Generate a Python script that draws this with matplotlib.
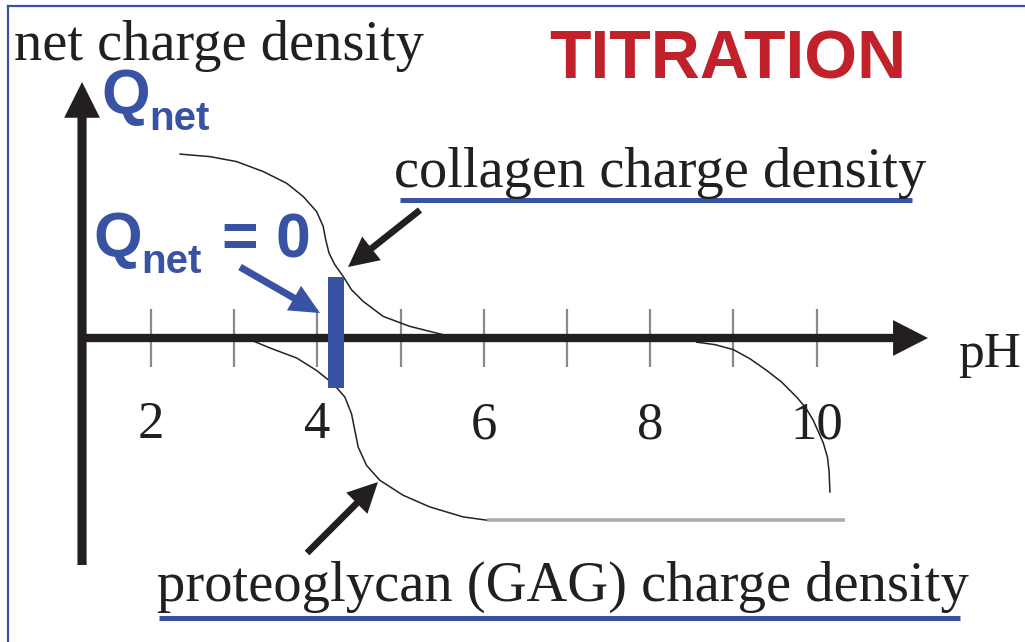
import matplotlib
matplotlib.use("Agg")
import matplotlib.pyplot as plt
from matplotlib.lines import Line2D
from matplotlib.patches import FancyArrow, Rectangle

# %% Data (pH vs net charge density, arbitrary units)

collagen_ph = [2.35, 2.71, 3.03, 3.35, 3.63, 3.83, 3.99, 4.07, 4.10, 4.14,
               4.21, 4.31, 4.41, 4.55, 4.79, 5.11, 5.43, 5.55]
collagen_q = [2.21, 2.18, 2.12, 2.00, 1.86, 1.70, 1.52, 1.34, 1.18, 1.02,
              0.88, 0.74, 0.58, 0.44, 0.26, 0.14, 0.06, 0.03]

gag_ph = [3.10, 3.19, 3.43, 3.75, 3.99, 4.19, 4.33, 4.41, 4.45, 4.49,
          4.59, 4.75, 5.03, 5.35, 5.75, 6.04]
gag_q = [0.00, -0.02, -0.12, -0.24, -0.39, -0.55, -0.71, -0.91, -1.11, -1.31,
         -1.53, -1.71, -1.89, -2.03, -2.15, -2.19]

plateau_ph = [6.04, 10.34]
plateau_q = [-2.19, -2.19]

basic_ph = [8.56, 8.78, 9.00, 9.20, 9.40, 9.58, 9.76, 9.87, 9.96, 10.08,
            10.13, 10.15, 10.16]
basic_q = [-0.05, -0.08, -0.14, -0.25, -0.39, -0.53, -0.71, -0.84, -0.99, -1.26,
           -1.43, -1.60, -1.85]

tick_ph = [2, 3, 4, 5, 6, 7, 8, 9, 10]
label_ph = [2, 4, 6, 8, 10]

pI = 4.22  # Q_net = 0

BLUE = "#3953a4"
RED = "#c0212b"
INK = "#231f20"
SERIF = "Liberation Serif"
SANS = "Liberation Sans"

# %% Figure

fig = plt.figure(figsize=(10.25, 6.42), dpi=100)
ax = fig.add_axes([0, 0, 1, 1])
ax.set_xlim(0.1851, 12.5048)
ax.set_ylim(-3.6538, 4.0625)
ax.axis("off")

# frame lines (top and left only)
fig.add_artist(Line2D([8 / 1025, 1], [1 - 6 / 642, 1 - 6 / 642], color=BLUE, lw=1.6))
fig.add_artist(Line2D([8 / 1025, 8 / 1025], [0, 1 - 6 / 642], color=BLUE, lw=1.6))

# tick marks
ax.vlines(tick_ph, -0.35, 0.35, color="#8a8a8a", lw=1.6, zorder=1)

# axes with arrow heads
ax.add_patch(FancyArrow(1.147, 0, 11.339 - 1.147, 0, width=0.1, head_width=0.43,
                        head_length=0.42, length_includes_head=True,
                        color=INK, lw=0, zorder=3))
ax.add_patch(FancyArrow(1.171, -2.728, 0, 3.077 + 2.728, width=0.11, head_width=0.43,
                        head_length=0.43, length_includes_head=True,
                        color=INK, lw=0, zorder=3))

# titration curves
line_kw = dict(color="#222222", lw=1.1, zorder=2, solid_joinstyle="round")
ax.plot(collagen_ph, collagen_q, **line_kw)
ax.plot(gag_ph, gag_q, **line_kw)
ax.plot(plateau_ph, plateau_q, color="#ababab", lw=2.6, zorder=2, solid_capstyle="butt")
ax.plot(basic_ph, basic_q, **line_kw)

# isoelectric bar
ax.add_patch(Rectangle((pI - 0.096, -0.601), 0.192, 1.334, color=BLUE, lw=0, zorder=4))

# tick labels
for v in label_ph:
    ax.text(v, -1.046, str(v), family=SERIF, fontsize=38, color=INK,
            ha="center", va="center")

ax.text(11.70, -0.349, "pH", family=SERIF, fontsize=37, color=INK, va="baseline")
ax.text(0.353, 3.341, "net charge density", family=SERIF, fontsize=40.7,
        color=INK, va="baseline")
ax.text(8.935, 3.125, "TITRATION", family=SANS, fontsize=49, weight="bold",
        color=RED, ha="center", va="baseline")

# Q_net labels
ax.text(1.399, 2.704, "Q", family=SANS, fontsize=45, weight="bold", color=BLUE, va="baseline")
ax.text(1.976, 2.5, "net", family=SANS, fontsize=29, weight="bold", color=BLUE, va="baseline")
ax.text(1.303, 0.986, "Q", family=SANS, fontsize=45, weight="bold", color=BLUE, va="baseline")
ax.text(1.880, 0.781, "net", family=SANS, fontsize=29, weight="bold", color=BLUE, va="baseline")
ax.text(2.853, 0.962, "= 0", family=SANS, fontsize=45, weight="bold", color=BLUE, va="baseline")

# curve labels with underlines
ax.text(4.921, 1.815, "collagen charge density", family=SERIF, fontsize=40.7,
        color=INK, va="baseline")
ax.plot([4.993, 11.147], [1.659, 1.659], color=BLUE, lw=3.6, solid_capstyle="butt")
ax.text(2.072, -3.161, "proteoglycan (GAG) charge density", family=SERIF,
        fontsize=40.8, color=INK, va="baseline")
ax.plot([2.096, 11.724], [-3.365, -3.365], color=BLUE, lw=3.6, solid_capstyle="butt")

# pointer arrows
ax.add_patch(FancyArrow(5.233, 1.538, 4.368 - 5.233, 0.853 - 1.538, width=0.08,
                        head_width=0.36, head_length=0.36, length_includes_head=True,
                        color=INK, lw=0, zorder=5))
ax.add_patch(FancyArrow(3.875, -2.584, 4.728 - 3.875, -1.731 + 2.584, width=0.08,
                        head_width=0.36, head_length=0.36, length_includes_head=True,
                        color=INK, lw=0, zorder=5))
ax.add_patch(FancyArrow(3.070, 0.853, 4.031 - 3.070, 0.300 - 0.853, width=0.085,
                        head_width=0.34, head_length=0.36, length_includes_head=True,
                        color=BLUE, lw=0, zorder=5))

fig.savefig("out.png", dpi=100)
